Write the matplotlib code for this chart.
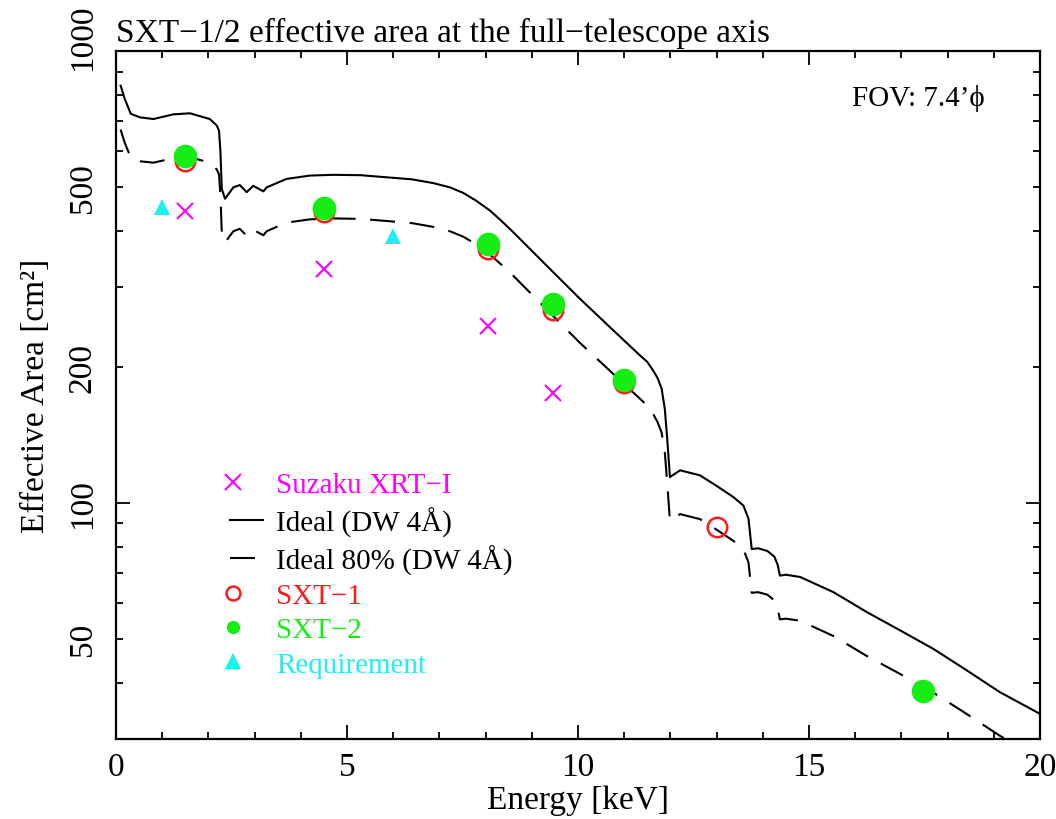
import matplotlib
matplotlib.use("Agg")
import matplotlib.pyplot as plt
from matplotlib.lines import Line2D
from matplotlib.legend_handler import HandlerLine2DCompound
from matplotlib.transforms import ScaledTranslation

plt.rcParams['font.family'] = ['Liberation Serif', 'DejaVu Serif']
plt.rcParams['axes.unicode_minus'] = True

# =========================
# data
# =========================
# ideal curve (DW 4A)
ideal_e = [0.10, 0.19, 0.32, 0.52, 0.81, 1.24, 1.60, 2.03, 2.18, 2.23, 2.26, 2.29, 2.36,
           2.54, 2.68, 2.83, 2.97, 3.19, 3.26, 3.69, 4.20, 4.70, 5.30, 5.79, 6.40, 6.87,
           7.23, 7.52, 7.80, 8.10, 8.35, 8.60, 9.32, 10.04, 10.76, 11.34, 11.50, 11.63,
           11.72, 11.81, 11.88, 11.93, 11.99, 12.10, 12.21, 12.64, 13.00, 13.36, 13.58,
           13.69, 13.76, 13.90, 14.10, 14.25, 14.32, 14.37, 14.50, 14.81, 15.53, 16.25,
           16.97, 17.69, 18.41, 19.13, 20.00]
ideal_a = [838, 783, 726, 713, 707, 724, 728, 707, 684, 666, 600, 495, 471,
           499, 505, 487, 503, 489, 499, 521, 530, 532, 531, 526, 520, 510,
           499, 485, 466, 443, 420, 397, 335, 283, 241, 212, 205, 196,
           189, 179, 161, 139, 114, 116, 118, 115, 109, 103, 98.6,
           92.2, 79.0, 79.3, 78.2, 76.0, 73.0, 69.0, 69.3, 68.5, 63.4, 57.3,
           52.2, 47.5, 42.6, 38.1, 34.1]
# ideal 80% curve (DW 4A)
ideal80_e = ideal_e
ideal80_a = [670, 626, 581, 570, 566, 579, 582, 566, 547, 533, 480, 396, 377,
             399, 404, 390, 402, 391, 399, 417, 424, 426, 425, 421, 416, 408,
             399, 388, 373, 354, 336, 318, 268, 226, 193, 170, 164, 157,
             151, 143, 129, 111, 91.2, 92.8, 94.4, 92.0, 87.2, 82.4, 78.9,
             73.8, 63.2, 63.4, 62.6, 60.8, 58.4, 55.2, 55.4, 54.8, 50.7, 45.8,
             41.8, 38.0, 34.1, 30.5, 27.3]

suzaku_e = [1.5, 4.5, 8.05, 9.45]
suzaku_a = [443, 330, 246, 175]

sxt1_e = [1.5, 4.5, 8.05, 9.45, 11.0, 13.0]
sxt1_a = [572, 440, 365, 267, 184, 88.6]

sxt2_e = [1.5, 4.5, 8.05, 9.45, 11.0, 17.46]
sxt2_a = [586, 449, 374, 275, 187, 38.4]

req_e = [1.0, 6.0]
req_a = [452, 390]

y_major = [100]
y_minor = [40, 50, 60, 70, 80, 90, 200, 300, 400, 500, 600, 700, 800, 900, 1000]
y_minor_labels = ['', '50', '', '', '', '', '200', '', '', '500', '', '', '', '', '1000']

c_mag = '#ff00ff'
c_red = '#ff1a1a'
c_grn = '#14ee14'
c_cyn = '#1ef0f0'

# =========================
# plot
# =========================
fig = plt.figure(figsize=(10.56, 8.2), dpi=100)
ax = fig.add_axes([116/1056, 1-740/820, 924/1056, 688/820])

ax.plot(ideal_e, ideal_a, color='black', lw=1.5, label='Ideal (DW 4Å)')
ax.plot(ideal80_e, ideal80_a, color='black', lw=1.5, dashes=(12, 7), label='Ideal 80% (DW 4Å)')
ax.plot(suzaku_e, suzaku_a, 'x', color=c_mag, ms=12, mew=1.5, label='Suzaku XRT−I')
ax.plot(sxt1_e, sxt1_a, 'o', color=c_red, mfc='none', ms=14, mew=1.8, label='SXT−1')
ax.plot(sxt2_e, sxt2_a, 'o', color=c_grn, ms=17, mew=0, label='SXT−2')
ax.plot(req_e, req_a, '^', color=c_cyn, ms=12, mew=0, label='Requirement')

ax.set_xlim(0, 20)
ax.set_yscale('log')
ax.set_ylim(30, 1000)

ax.set_xticks([0, 5, 10, 15, 20])
ax.set_xticks(range(0, 21), minor=True)
ax.set_yticks(y_major)
ax.set_yticklabels(['100'])
ax.set_yticks(y_minor, minor=True)
ax.set_yticklabels(y_minor_labels, minor=True)

ax.tick_params(which='both', direction='in', top=True, right=True, width=1.3, labelsize=24)
ax.tick_params(which='major', length=10)
ax.tick_params(which='minor', length=5)
ax.tick_params(axis='x', which='both', pad=9)
ax.tick_params(axis='y', which='both', labelrotation=90, pad=13)
for s in ax.spines.values():
    s.set_linewidth(1.6)

ticks = ax.yaxis.get_major_ticks() + ax.yaxis.get_minor_ticks()
for t in ticks:
    t.label1.set_va('center')
# the top label is pushed up a little, as in the original
top_lbl = ax.yaxis.get_minor_ticks()[-1].label1
top_lbl.set_transform(top_lbl.get_transform() + ScaledTranslation(0, 10/72, fig.dpi_scale_trans))

ax.set_xlabel('Energy [keV]', fontsize=24, labelpad=2)
ax.set_ylabel('Effective Area [cm²]', fontsize=24, labelpad=12)
ax.set_title('SXT−1/2 effective area at the full−telescope axis', loc='left', fontsize=24, pad=7)

ax.text(0.9405, 0.932, 'FOV: 7.4’ϕ', transform=ax.transAxes, ha='right', va='center',
        fontsize=21, family=['Liberation Serif', 'DejaVu Serif'])


# markers sit at the left end of the legend key, like the original
class LeftMarker(HandlerLine2DCompound):
    def get_xdata(self, legend, xdescent, ydescent, width, height, fontsize):
        xd, xm = super().get_xdata(legend, xdescent, ydescent, width, height, fontsize)
        return xd, [-xdescent + 0.1 * width]


h, l = ax.get_legend_handles_labels()
order = [2, 0, 1, 3, 4, 5]
h = [h[i] for i in order]
l = [l[i] for i in order]
leg_colors = [c_mag, 'black', 'black', c_red, c_grn, c_cyn]
leg_ms = [12, 0, 0, 10, 9.5, 11]
leg_handles = []
for hh, ms in zip(h, leg_ms):
    nh = Line2D([], [])
    nh.update_from(hh)
    if ms:
        nh.set_markersize(ms)
    leg_handles.append(nh)
leg = ax.legend(leg_handles, l, loc='upper left', bbox_to_anchor=(0.123, 0.388),
                frameon=False, fontsize=21, labelcolor=leg_colors,
                handlelength=1.15, handletextpad=0.45, labelspacing=0.27,
                borderpad=0, borderaxespad=0,
                handler_map={Line2D: LeftMarker(numpoints=1)})

fig.savefig('out.png', dpi=100)
